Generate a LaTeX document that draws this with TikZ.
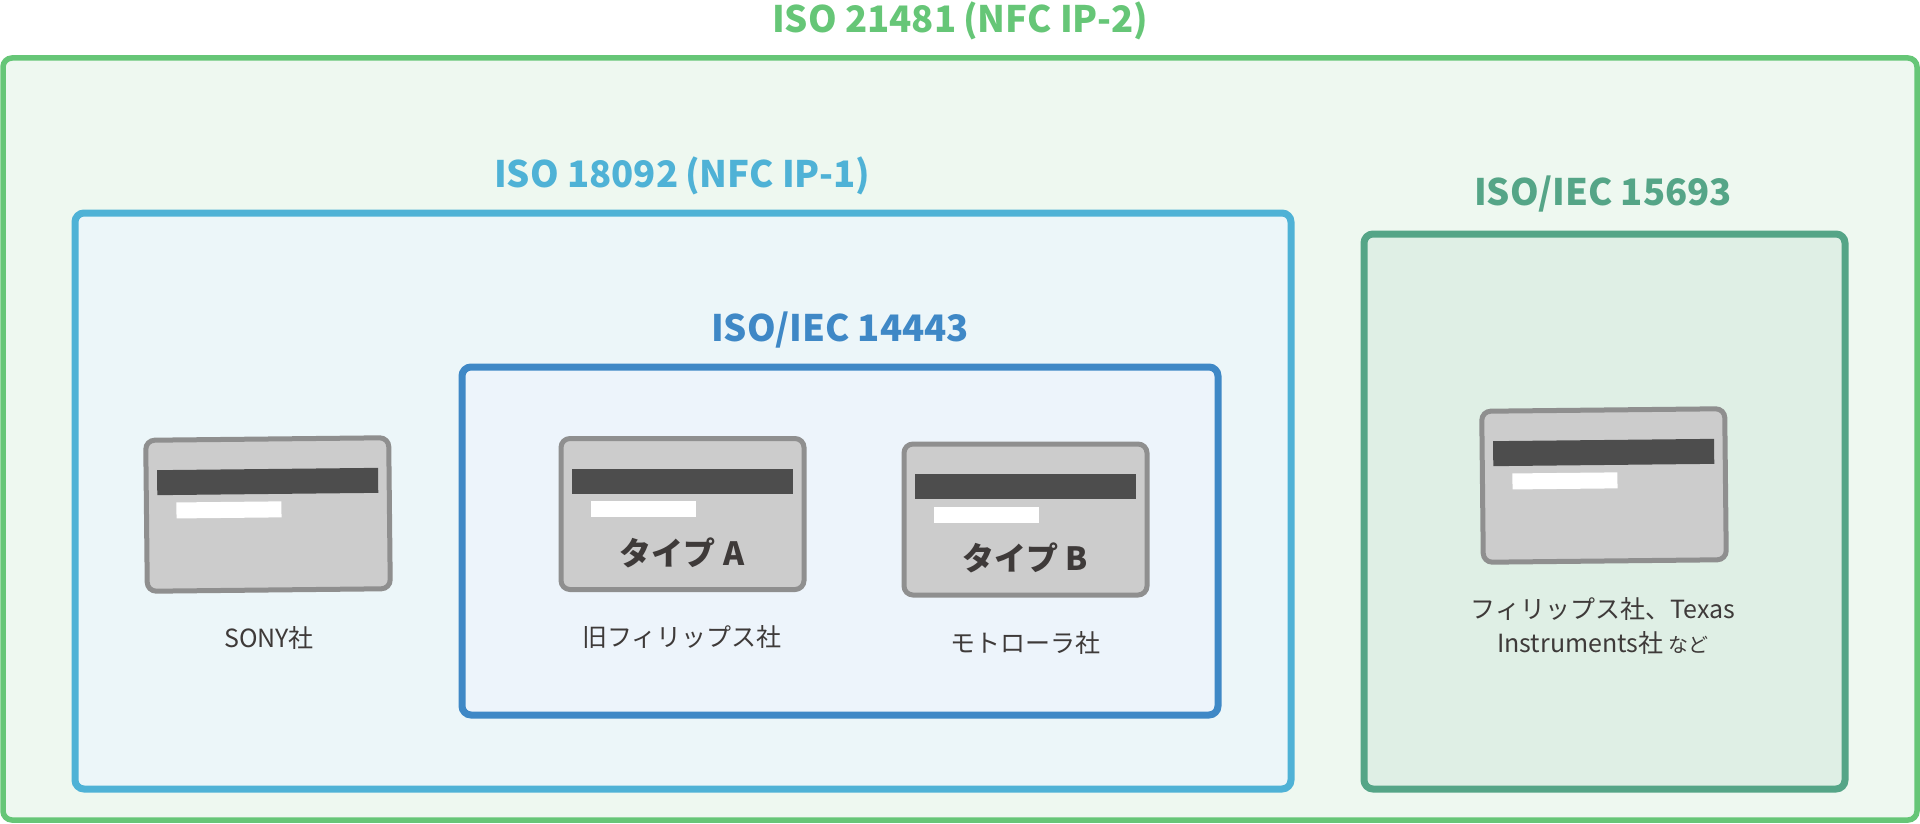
\documentclass[tikz,border=0pt]{standalone}
\usepackage{fontspec}
\setmainfont{Noto Sans CJK JP}
\usetikzlibrary{positioning}
\definecolor{nfcgreen}{HTML}{66C677}
\definecolor{nfcsky}{HTML}{4FB2D6}
\definecolor{nfcblue}{HTML}{3F88C6}
\definecolor{nfcteal}{HTML}{55A587}
\definecolor{greenfill}{HTML}{EEF8F0}
\definecolor{skyfill}{HTML}{ECF6F9}
\definecolor{bluefill}{HTML}{EDF4FB}
\definecolor{tealfill}{HTML}{DFEFE5}
\definecolor{cardgray}{HTML}{CCCCCC}
\definecolor{cardedge}{HTML}{8F8F8F}
\definecolor{stripgray}{HTML}{4D4D4D}
\definecolor{labelgray}{HTML}{3E3A39}
\tikzset{stdbox/.style = {rectangle, rounded corners=9, line width=#1, inner sep=0}}
\tikzset{title/.style = {font=\fontsize{36.5}{40}\selectfont\bfseries, inner sep=0, anchor=base}}
\tikzset{cardbody/.style = {draw=cardedge, fill=cardgray, line width=5, rounded corners=9,
    minimum width=243, minimum height=151, inner sep=0, transform shape}}
\tikzset{magstrip/.style = {fill=stripgray, minimum width=221, minimum height=25, inner sep=0, transform shape}}
\tikzset{sigpanel/.style = {fill=white, minimum width=105, minimum height=16, inner sep=0, transform shape}}
\tikzset{cardtext/.style = {font=\fontsize{32}{36}\selectfont\bfseries, text=labelgray, inner sep=0}}
\tikzset{vendor/.style = {font=\fontsize{25}{34}\selectfont, text=labelgray, inner sep=0, align=center}}
% card at (#2,#3), turned by #4
\newcommand{\card}[4]{
  \begin{scope}[shift={(#2,#3)}, rotate=#4]
    \node[cardbody] (#1) at (0,0) {};
    \node[magstrip] (#1strip) at (0,-33) {};
    \node[sigpanel] (#1panel) at (-39,-5) {};
  \end{scope}
}

\begin{document}
\begin{tikzpicture}[x=1pt, y=-1pt]
      \useasboundingbox (0,0) rectangle (1920,824);
      \node[stdbox=5.5, draw=nfcgreen, fill=greenfill, minimum width=1914, minimum height=762] (ip2) at (960,439) {};
      \node[stdbox=7, draw=nfcsky, fill=skyfill, minimum width=1216, minimum height=576] (ip1) at (683,501) {};
      \node[stdbox=7, draw=nfcblue, fill=bluefill, minimum width=756, minimum height=348] (iec14443) at (840,541) {};
      \node[stdbox=7, draw=nfcteal, fill=tealfill, minimum width=481, minimum height=555] (iec15693) at (1604.5,511.5) {};

      \node[title, text=nfcgreen] (ip2title) at (960,33) {ISO 21481\hspace{7pt}(NFC IP-2)};
      \node[title, text=nfcsky] (ip1title) at (682,187) {ISO 18092\hspace{7pt}(NFC IP-1)};
      \node[title, text=nfcblue] (title14443) at (840,341) {ISO/IEC 14443};
      \node[title, text=nfcteal] (title15693) at (1603,205) {ISO/IEC 15693};

      \card{sony}{268}{514.5}{0.6}
      \card{typea}{682.5}{514}{0}
      \card{typeb}{1025.5}{519.5}{0}
      \card{philips}{1604}{485.5}{0.6}

      \node[cardtext] (typealabel) at (682,553) {タイプ A};
      \node[cardtext] (typeblabel) at (1025,558) {タイプ B};

      \node[vendor] (sonyname) at (269,638) {SONY社};
      \node[vendor] (oldphilips) at (682,637) {旧フィリップス社};
      \node[vendor] (motorola) at (1025,643) {モトローラ社};
      \node[vendor] (others) at (1603,626) {フィリップス社、Texas\\Instruments社 {\fontsize{20}{34}\selectfont など}};
    \end{tikzpicture}
\end{document}
